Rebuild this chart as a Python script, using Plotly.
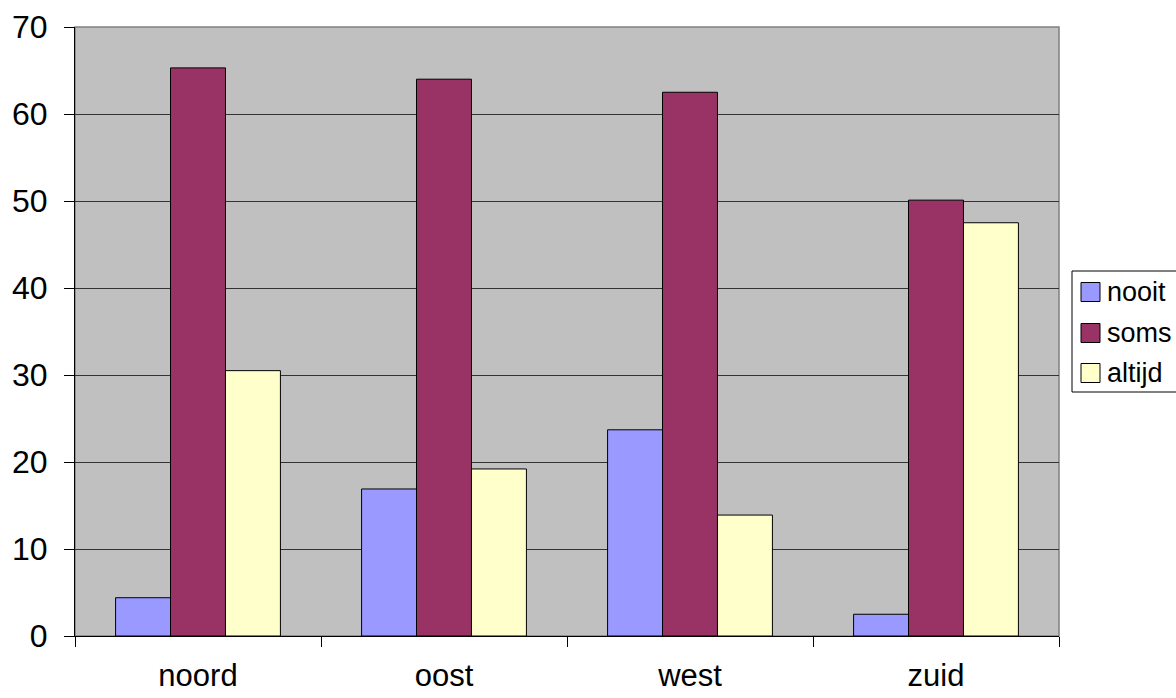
import plotly.graph_objects as go

categories = ["noord", "oost", "west", "zuid"]
nooit = [4.4, 16.9, 23.7, 2.5]
soms = [65.3, 64.0, 62.5, 50.1]
altijd = [30.5, 19.2, 13.9, 47.5]
y_ticks = [0, 10, 20, 30, 40, 50, 60, 70]

series = [("nooit", nooit, "#9999FF"), ("soms", soms, "#993366"), ("altijd", altijd, "#FFFFCC")]

fig = go.Figure()
for name, vals, col in series:
    fig.add_trace(go.Bar(
        x=categories, y=vals, name=name, showlegend=False,
        marker=dict(color=col, line=dict(color="black", width=1)),
    ))

W, H = 1176, 698
L, R, T, B = 75, 1059, 27, 636


def px(x):
    return (x - L) / (R - L)


def py(y):
    return (B - y) / (B - T)


fig.update_layout(
    width=W, height=H,
    margin=dict(l=L, r=W - R, t=T, b=H - B, autoexpand=False),
    paper_bgcolor="white",
    plot_bgcolor="#C0C0C0",
    barmode="group",
    bargap=0.33,
    bargroupgap=0,
    font=dict(family="Liberation Sans, Arial, sans-serif", color="black"),
    showlegend=False,
    xaxis=dict(
        showgrid=False, showline=True, linecolor="black", linewidth=1,
        ticks="outside", tickson="boundaries", ticklen=10, tickcolor="black",
        tickfont=dict(size=31), ticklabelstandoff=12, fixedrange=True,
    ),
    yaxis=dict(
        range=[0, 70], tickvals=y_ticks, showgrid=True, gridcolor="#333333", gridwidth=1,
        showline=True, linecolor="black", linewidth=1, zeroline=False,
        ticks="outside", ticklen=10, tickcolor="black",
        tickfont=dict(size=32), ticklabelstandoff=10,
    ),
)
fig.add_shape(type="rect", xref="paper", yref="paper", x0=0, x1=1, y0=0, y1=1,
              line=dict(color="#808080", width=1.5), layer="below")

# legend box
fig.add_shape(type="rect", xref="paper", yref="paper",
              x0=px(1072), x1=px(1190), y0=py(392), y1=py(271),
              line=dict(color="black", width=1), fillcolor="white", layer="above")
centers = [292, 333, 373]
for (name, vals, col), cy in zip(series, centers):
    fig.add_shape(type="rect", xref="paper", yref="paper",
                  x0=px(1081), x1=px(1100), y0=py(cy + 9.5), y1=py(cy - 9.5),
                  line=dict(color="black", width=1), fillcolor=col, layer="above")
    fig.add_annotation(xref="paper", yref="paper", x=px(1105), y=py(cy),
                       text=name, showarrow=False, xanchor="left", yanchor="middle",
                       font=dict(size=27, color="black"))

fig.write_html("out.html")
